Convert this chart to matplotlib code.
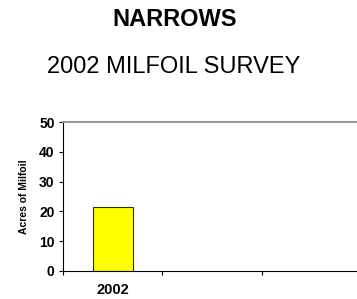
import matplotlib
matplotlib.use("Agg")
import matplotlib.pyplot as plt

plt.rcParams['font.family'] = ['Liberation Sans', 'DejaVu Sans']

# data
categories = ["2002", "", ""]
acres = [21.5, 0, 0]
y_ticks = [0, 10, 20, 30, 40, 50]

fig = plt.figure(figsize=(3.57, 2.99), dpi=100)
# axes: left 63px, right just past the edge, bottom 271px, top 122px
ax = fig.add_axes([63 / 357, 1 - 271 / 299, 298 / 357, 149 / 299])

x = list(range(len(categories)))
ax.bar(x[:1], acres[:1], width=0.4, color="#FFFF00", edgecolor="#333300", linewidth=0.8)

ax.set_xlim(-0.5, len(categories) - 0.5)
ax.set_ylim(0, 50)
ax.set_yticks(y_ticks)
ax.set_yticklabels([str(v) for v in y_ticks], fontweight="bold", fontsize=10)
ax.set_xticks(x)
ax.set_xticklabels(categories, fontweight="bold", fontsize=10.5)
ax.tick_params(axis="x", which="major", length=0, pad=9)
# category boundary ticks
ax.set_xticks([i - 0.5 for i in x] + [len(x) - 0.5], minor=True)
ax.tick_params(axis="x", which="minor", length=3, direction="out", width=0.8)
ax.tick_params(axis="y", length=3, width=0.8, pad=3)

ax.spines["right"].set_visible(False)
ax.spines["top"].set_color("#999999")
ax.spines["top"].set_linewidth(1.5)
ax.spines["left"].set_linewidth(0.8)
ax.spines["bottom"].set_linewidth(0.8)

ax.set_ylabel("Acres of Milfoil", fontsize=7.5, fontweight="bold", labelpad=7)

fig.text(175 / 357, 1 - 19 / 299, "NARROWS", ha="center", va="center",
         fontsize=17, fontweight="bold")
fig.text(174 / 357, 1 - 67 / 299, "2002 MILFOIL SURVEY", ha="center", va="center",
         fontsize=17)

fig.savefig("out.png", dpi=100)
